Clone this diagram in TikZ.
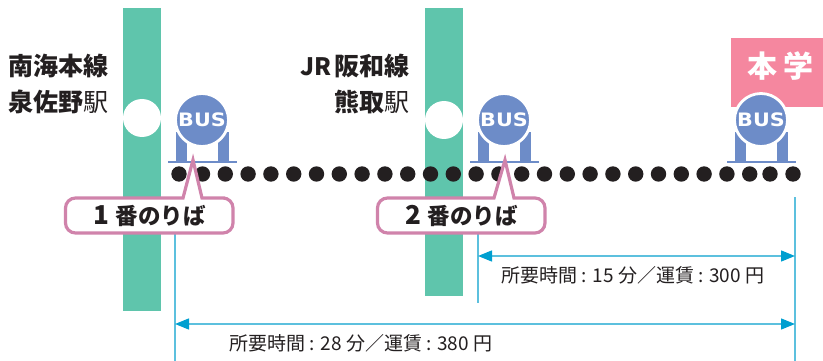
\documentclass[tikz,border=0pt]{standalone}
\usepackage{graphicx}
\usepackage{fontspec}
\setmainfont{Noto Sans CJK JP}
\newfontfamily\busfont{DejaVu Sans}
\usetikzlibrary{arrows.meta}
\definecolor{linegreen}{HTML}{5FC5AC}
\definecolor{buspink}{HTML}{F5879F}
\definecolor{busblue}{HTML}{6D8CC8}
\definecolor{boxpink}{HTML}{D083AB}
\definecolor{rulecyan}{HTML}{5CC0DE}
\definecolor{tipcyan}{HTML}{009FD0}
\definecolor{inkgray}{HTML}{231F20}
\newcommand{\sz}[1]{\fontsize{#1}{#1}\selectfont}
\begin{document}
\begin{tikzpicture}[x=1pt,y=-1pt,
    ele/.style={fill=inkgray,circle,minimum width=15.4pt,inner sep=0pt},
    stn/.style={fill=white,circle,minimum width=38pt,inner sep=0pt},
    busdisc/.style={fill=busblue,circle,draw=white,line width=2.8pt,minimum width=53pt,
      inner sep=0pt,text=white,font=\busfont\bfseries\sz{18.5}},
    stnlabel/.style={anchor=east,inner sep=0pt,text=inkgray,font=\sz{25}},
    stoplabel/.style={inner sep=0pt,text=inkgray,font=\sz{22.5}},
    farelabel/.style={inner sep=0pt,text=inkgray,font=\sz{19}},
    callout/.style={draw=boxpink,fill=white,line width=3.2pt,rounded corners=10pt},
    >={Triangle[length=14pt,width=11pt,color=tipcyan]}]
    \useasboundingbox (0,0) rectangle (823,361);

    % the lines
    \fill[linegreen] (123,8) rectangle (161,311);
    \fill[linegreen] (425,8) rectangle (463,296);
    \fill[buspink] (731,38) rectangle (823,107);
    \node[stn] (stn1) at (142,118) {};
    \node[stn] (stn2) at (444,120) {};

    % the bus stops
    \foreach \i/\x in {1/202,2/504,3/761} {
      \fill[busblue] (\x-26,132) rectangle (\x-15,162);
      \fill[busblue] (\x+16,132) rectangle (\x+27,162);
      \fill[busblue] (\x-34,160.5) rectangle (\x+34.5,163);
      \node[busdisc] (bus\i) at (\x,120) {\scalebox{1.12}[1]{BUS}};
    }

    % the dots
    \node[ele] (d0) at (179,174) {};
    \foreach \i in {1,...,25}
      \node[ele] (d\i) at ({202.5+22.8*(\i-1)},174) {};
    \node[ele] (d26) at (770,174) {};
    \node[ele] (d27) at (793,174) {};

    % the rules
    \coordinate (a1) at (175,234);
    \coordinate (a2) at (175,361);
    \coordinate (b1) at (478,234);
    \coordinate (b2) at (478,303);
    \coordinate (c1) at (795,197);
    \coordinate (c2) at (795,361);
    \coordinate (p1) at (175,324);
    \coordinate (q1) at (795,324);
    \coordinate (p2) at (478,256);
    \coordinate (q2) at (795,256);
    \draw[rulecyan,line width=1.4pt] (a1) -- (a2);
    \draw[rulecyan,line width=1.4pt] (b1) -- (b2);
    \draw[rulecyan,line width=1.4pt] (c1) -- (c2);
    \draw[<->,rulecyan,line width=1.4pt] (p1) to (q1);
    \draw[<->,rulecyan,line width=1.4pt] (p2) to (q2);

    % the boxes
    \draw[callout] (183,198) -- (65.5,198) -- (65.5,233) -- (233,233) -- (233,198)
      -- (215,198) [sharp corners] -- (202,198) -- (193,160) -- cycle;
    \draw[callout] (494,198) -- (377.5,198) -- (377.5,233) -- (545,233) -- (545,198)
      -- (525,198) [sharp corners] -- (514,198) -- (505,160) -- cycle;

    % the texts
    \node[inner sep=0pt,text=white,font=\bfseries\sz{30}] (honbu) at (780.5,66) {本\kern6pt 学};
    \node[stnlabel] (n1) at (108.5,66) {\bfseries 南海本線};
    \node[stnlabel] (n2) at (108.5,102) {{\bfseries 泉佐野}駅};
    \node[stnlabel] (n3) at (410,66) {\bfseries{\sz{24}JR}\kern3pt 阪和線};
    \node[stnlabel] (n4) at (410,102) {{\bfseries 熊取}駅};
    \node[stoplabel] (s1) at (149.5,216) {\bfseries{\sz{26}1}\kern7pt 番のりば};
    \node[stoplabel] (s2) at (461.5,216) {\bfseries{\sz{26}2}\kern7pt 番のりば};
    \node[farelabel] (f1) at (633,275) {所要時間 : 15 分／運賃 : 300 円};
    \node[farelabel] (f2) at (361,343) {所要時間 : 28 分／運賃 : 380 円};
  \end{tikzpicture}
\end{document}
